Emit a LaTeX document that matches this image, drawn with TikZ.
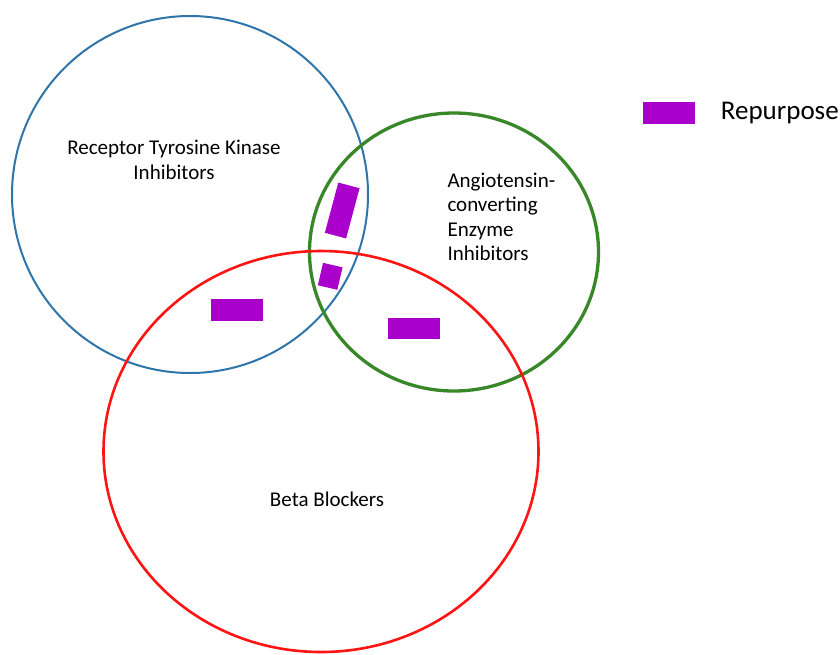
\documentclass[tikz,border=0pt]{standalone}
\usepackage{fontspec}
\setmainfont{Carlito}
\definecolor{rtkblue}{RGB}{46,117,170}
\definecolor{acegreen}{RGB}{56,135,40}
\definecolor{betared}{RGB}{255,20,20}
\definecolor{repurple}{RGB}{170,0,204}

\begin{document}
\begin{tikzpicture}[x=1pt, y=-1pt,
    drug/.style={fill=repurple, inner sep=0pt, minimum width=52pt, minimum height=22pt},
    setlabel/.style={inner sep=0pt, font=\fontsize{21}{24.5}\selectfont}]
    % Page size and white backdrop
    \useasboundingbox[fill=white] (0,0) rectangle (840,654);

    % The three sets
    \draw[rtkblue, line width=2pt] (190,194.5) ellipse [x radius=178pt, y radius=178.5pt];
    \draw[acegreen, line width=3.3pt] (454,252) ellipse [x radius=144.5pt, y radius=139pt];
    \draw[betared, line width=2.6pt] (321,451.5) ellipse [x radius=217.5pt, y radius=200.5pt];

    \node[setlabel, align=center] (rtk) at (174,160) {Receptor Tyrosine Kinase\\Inhibitors};
    \node[setlabel, align=left, anchor=north west] (ace) at (447.3,172.5)
      {Angiotensin-\\converting\\Enzyme\\Inhibitors};
    \node[setlabel, anchor=base] (beta) at (327,506.7) {Beta Blockers};

    % Repurposed drugs
    \node[drug] (rtkbeta) at (236.7,309.5) {};
    \node[drug, minimum height=21pt] (acebeta) at (413.5,328.8) {};
    \node[drug, rotate=75] (rtkace) at (342.2,210.5) {};
    \node[drug, minimum width=23pt, minimum height=20pt, rotate=77] (all) at (330.2,276.3) {};

    % Legend
    \node[drug] (key) at (668.7,112.9) {};
    \node[inner sep=0pt, anchor=base west, font=\fontsize{27}{32}\selectfont] (keytext)
      at (720.7,119.5) {Repurpose};
\end{tikzpicture}
\end{document}
